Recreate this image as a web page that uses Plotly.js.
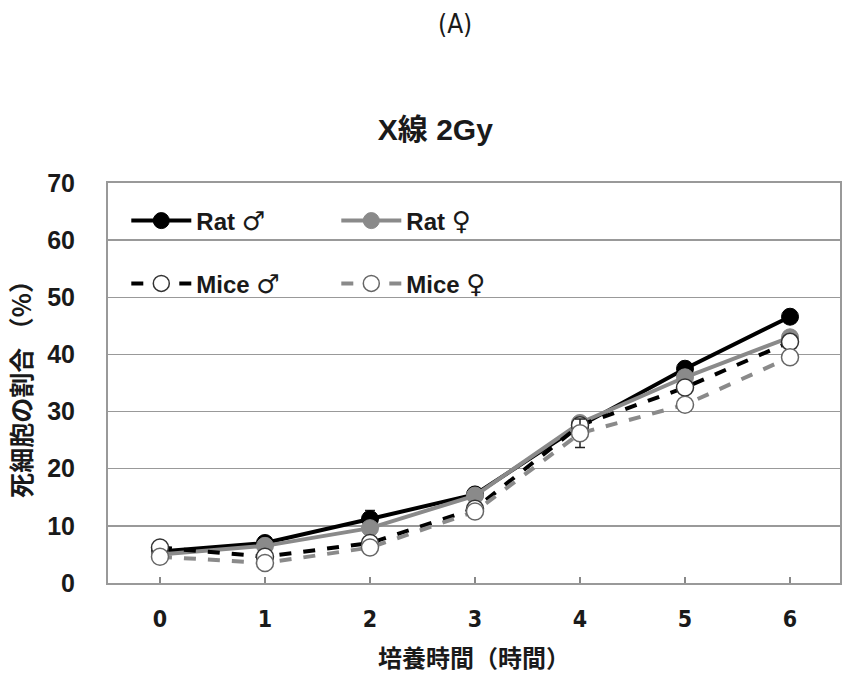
<!DOCTYPE html>
<html>
<head>
<meta charset="utf-8">
<script src="https://cdn.plot.ly/plotly-3.0.1.min.js"></script>
<style>html,body{margin:0;padding:0;background:#fff;}#chart{width:842px;height:691px;}</style>
</head>
<body>
<div id="chart"></div>
<script>
const hours = [0, 1, 2, 3, 4, 5, 6];
const tickLabels = ["0", "1", "2", "3", "4", "5", "6"];
const ratMale = [5.5, 7.0, 11.2, 15.5, 27.5, 37.5, 46.6];
const ratMaleErr = [0.5, 0.6, 1.5, 0.6, 0.8, 0.8, 0.8];
const ratFemale = [5.0, 6.5, 9.6, 15.3, 28.0, 36.0, 43.0];
const ratFemaleErr = [0.4, 0.5, 0.6, 0.6, 0.6, 0.8, 0.8];
const miceMale = [6.2, 4.6, 7.0, 13.0, 27.6, 34.2, 42.2];
const miceMaleErr = [0.4, 0.5, 0.5, 0.6, 0.8, 0.8, 0.6];
const miceFemale = [4.6, 3.5, 6.2, 12.5, 26.2, 31.2, 39.5];
const miceFemaleErr = [0.4, 0.4, 0.5, 0.6, 2.5, 0.6, 0.6];
const species = ["Rat", "Rat", "Mice", "Mice"];
const sexes = ["♂", "♀", "♂", "♀"];

const sym = s => "<span style=\"font-family:'DejaVu Sans';font-size:26px\">" + s + "</span>";
const names = species.map((sp, i) => sp + " " + sym(sexes[i]));

const GRAY = "#8a8a8a";
function errBar(arr){ return {type:'data', array:arr, visible:true, color:'#222', thickness:1.5, width:5}; }

const traces = [
  {x:hours, y:ratMale, name:names[0], mode:'lines+markers', legend:'legend',
   line:{color:'#000', width:4}, marker:{color:'#000', size:17, line:{color:'#000', width:1}},
   error_y:errBar(ratMaleErr)},
  {x:hours, y:ratFemale, name:names[1], mode:'lines+markers', legend:'legend',
   line:{color:GRAY, width:4}, marker:{color:GRAY, size:17, line:{color:GRAY, width:1}},
   error_y:errBar(ratFemaleErr)},
  {x:hours, y:miceMale, name:names[2], mode:'lines+markers', legend:'legend2',
   line:{color:'#000', width:4, dash:'dash'}, marker:{color:'#fff', size:17, line:{color:'#333', width:1.5}},
   error_y:errBar(miceMaleErr)},
  {x:hours, y:miceFemale, name:names[3], mode:'lines+markers', legend:'legend2',
   line:{color:GRAY, width:4, dash:'dash'}, marker:{color:'#fff', size:17, line:{color:'#666', width:1.5}},
   error_y:errBar(miceFemaleErr)}
];

const SANS = '"Liberation Sans", Arial, "Noto Sans CJK JP", sans-serif';
const COND = '"DejaVu Sans Condensed", "Liberation Sans Narrow", "Liberation Sans", sans-serif';
const boldFont = {family:SANS, size:25, color:'#1a1a1a', weight:'bold'};
const narrowFont = {family:COND, size:23, color:'#1a1a1a', weight:'bold', stretch:'condensed'};
const legFont = {family:SANS, size:24, color:'#1a1a1a', weight:'bold'};

const layout = {
  width:842, height:691,
  paper_bgcolor:'#fff', plot_bgcolor:'#fff',
  margin:{l:108, r:2, t:183, b:108},
  title:{text:'X線 2Gy', xref:'container', x:0.517, xanchor:'center', y:0.812, yanchor:'middle',
         font:{family:SANS, size:30, color:'#1a1a1a', weight:'bold'}},
  showlegend:true,
  legend:{x:0.025, y:0.905, xanchor:'left', yanchor:'middle', orientation:'h', itemwidth:60,
          entrywidth:135, entrywidthmode:'pixels', bgcolor:'rgba(0,0,0,0)', font:legFont},
  legend2:{x:0.025, y:0.748, xanchor:'left', yanchor:'middle', orientation:'h', itemwidth:60,
          entrywidth:135, entrywidthmode:'pixels', bgcolor:'rgba(0,0,0,0)', font:legFont},
  xaxis:{range:[-0.495, 6.476], tickmode:'array', tickvals:hours, ticktext:tickLabels,
         ticks:'inside', ticklen:6, tickcolor:'#888', tickwidth:1.5,
         showline:true, linecolor:'#999', linewidth:2, mirror:true,
         showgrid:false, zeroline:false, tickfont:narrowFont, ticklabelstandoff:14,
         title:{text:'培養時間（時間）', font:{family:'"Noto Sans CJK JP", sans-serif', size:24, color:'#1a1a1a', weight:'bold'}, standoff:20}},
  yaxis:{range:[0, 70], dtick:10, ticks:'', showline:true, linecolor:'#999', linewidth:2, mirror:true,
         showgrid:true, gridcolor:'#999', gridwidth:1.5, zeroline:false,
         tickfont:boldFont, ticklabelstandoff:26,
         title:{text:'死細胞の割合 （%）', font:{family:'"Noto Sans CJK JP", sans-serif', size:25, color:'#1a1a1a', weight:'bold'}, standoff:8}},
  annotations:[
    {text:'(A)', xref:'paper', yref:'paper', x:0.474, y:1.398, xanchor:'center', yanchor:'middle', showarrow:false,
     font:{family:COND, size:26, color:'#1a1a1a', stretch:'condensed'}}
  ]
};

Plotly.newPlot('chart', traces, layout, {displayModeBar:false, staticPlot:true});
</script>
</body>
</html>
